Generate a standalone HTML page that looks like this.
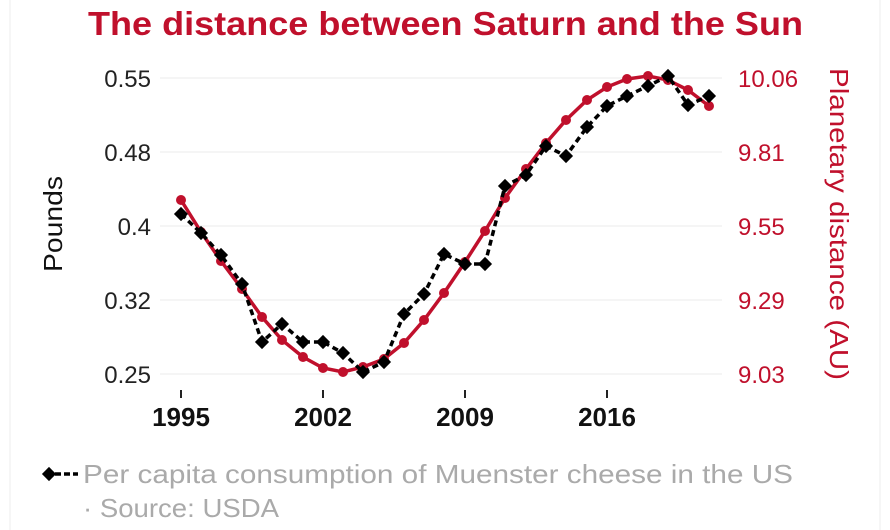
<!DOCTYPE html>
<html><head><meta charset="utf-8"><style>
body{margin:0;background:#fff;}
svg{display:block;font-family:"Liberation Sans",sans-serif;}
</style></head><body>
<svg width="890" height="530" viewBox="0 0 890 530">
<rect x="0" y="0" width="890" height="530" fill="#fff"/>
<line x1="10" y1="0" x2="10" y2="530" stroke="#eee"/>
<line x1="880" y1="0" x2="880" y2="530" stroke="#eee"/>
<text x="88" y="35" font-size="33" font-weight="bold" fill="#c0102c" textLength="715" lengthAdjust="spacingAndGlyphs">The distance between Saturn and the Sun</text>
<g stroke="#ebebeb" stroke-width="1">
<line x1="160" y1="78" x2="722" y2="78"/>
<line x1="160" y1="152" x2="722" y2="152"/>
<line x1="160" y1="226" x2="722" y2="226"/>
<line x1="160" y1="300" x2="722" y2="300"/>
<line x1="160" y1="374" x2="722" y2="374"/>
</g>
<g font-size="24" fill="#222" text-anchor="end">
<text x="151" y="87">0.55</text><text x="151" y="161">0.48</text><text x="151" y="235">0.4</text><text x="151" y="309">0.32</text><text x="151" y="383">0.25</text>
</g>
<g font-size="24" fill="#c0102c" text-anchor="start">
<text x="738" y="87">10.06</text><text x="738" y="161">9.81</text><text x="738" y="235">9.55</text><text x="738" y="309">9.29</text><text x="738" y="383">9.03</text>
</g>
<g stroke="#222" stroke-width="2"><line x1="181" y1="390" x2="181" y2="398"/><line x1="323" y1="390" x2="323" y2="398"/><line x1="465" y1="390" x2="465" y2="398"/><line x1="607" y1="390" x2="607" y2="398"/></g>
<g font-size="26" font-weight="bold" fill="#111" text-anchor="middle">
<text x="181" y="426">1995</text><text x="323" y="426">2002</text><text x="465" y="426">2009</text><text x="607" y="426">2016</text>
</g>
<text transform="translate(62,224) rotate(-90)" text-anchor="middle" font-size="26" fill="#111" textLength="96" lengthAdjust="spacingAndGlyphs">Pounds</text>
<text transform="translate(830,224) rotate(90)" text-anchor="middle" font-size="26" fill="#c0102c" textLength="312" lengthAdjust="spacingAndGlyphs">Planetary distance (AU)</text>
<polyline fill="none" stroke="#c0102c" stroke-width="3.5" points="181,200 201,232 221,261 242,289 262,317 282,340 303,357 323,368 343,372 363,367 384,359 404,343 424,320 444,293 465,262 485,231 505,198 526,169 546,143 566,120 587,100 607,87 627,79 648,76 668,80 688,90 709,106"/>
<g fill="#c0102c">
<circle cx="181" cy="200" r="5"/><circle cx="201" cy="232" r="5"/><circle cx="221" cy="261" r="5"/><circle cx="242" cy="289" r="5"/><circle cx="262" cy="317" r="5"/><circle cx="282" cy="340" r="5"/><circle cx="303" cy="357" r="5"/><circle cx="323" cy="368" r="5"/><circle cx="343" cy="372" r="5"/><circle cx="363" cy="367" r="5"/><circle cx="384" cy="359" r="5"/><circle cx="404" cy="343" r="5"/><circle cx="424" cy="320" r="5"/><circle cx="444" cy="293" r="5"/><circle cx="465" cy="262" r="5"/><circle cx="485" cy="231" r="5"/><circle cx="505" cy="198" r="5"/><circle cx="526" cy="169" r="5"/><circle cx="546" cy="143" r="5"/><circle cx="566" cy="120" r="5"/><circle cx="587" cy="100" r="5"/><circle cx="607" cy="87" r="5"/><circle cx="627" cy="79" r="5"/><circle cx="648" cy="76" r="5"/><circle cx="668" cy="80" r="5"/><circle cx="688" cy="90" r="5"/><circle cx="709" cy="106" r="5"/>
</g>
<polyline fill="none" stroke="#000" stroke-width="3.5" stroke-dasharray="6,4" points="181,214 201,233 221,255 242,284 262,342 282,324 303,342 323,342 343,353 363,372 384,362 404,314 424,294 444,254 465,264 485,264 505,186 526,175 546,146 566,156 587,127 607,106 627,96 648,86 668,76 688,105 709,96"/>
<g fill="#000">
<rect x="-5" y="-5" width="10" height="10" transform="translate(181,214) rotate(45)"/><rect x="-5" y="-5" width="10" height="10" transform="translate(201,233) rotate(45)"/><rect x="-5" y="-5" width="10" height="10" transform="translate(221,255) rotate(45)"/><rect x="-5" y="-5" width="10" height="10" transform="translate(242,284) rotate(45)"/><rect x="-5" y="-5" width="10" height="10" transform="translate(262,342) rotate(45)"/><rect x="-5" y="-5" width="10" height="10" transform="translate(282,324) rotate(45)"/><rect x="-5" y="-5" width="10" height="10" transform="translate(303,342) rotate(45)"/><rect x="-5" y="-5" width="10" height="10" transform="translate(323,342) rotate(45)"/><rect x="-5" y="-5" width="10" height="10" transform="translate(343,353) rotate(45)"/><rect x="-5" y="-5" width="10" height="10" transform="translate(363,372) rotate(45)"/><rect x="-5" y="-5" width="10" height="10" transform="translate(384,362) rotate(45)"/><rect x="-5" y="-5" width="10" height="10" transform="translate(404,314) rotate(45)"/><rect x="-5" y="-5" width="10" height="10" transform="translate(424,294) rotate(45)"/><rect x="-5" y="-5" width="10" height="10" transform="translate(444,254) rotate(45)"/><rect x="-5" y="-5" width="10" height="10" transform="translate(465,264) rotate(45)"/><rect x="-5" y="-5" width="10" height="10" transform="translate(485,264) rotate(45)"/><rect x="-5" y="-5" width="10" height="10" transform="translate(505,186) rotate(45)"/><rect x="-5" y="-5" width="10" height="10" transform="translate(526,175) rotate(45)"/><rect x="-5" y="-5" width="10" height="10" transform="translate(546,146) rotate(45)"/><rect x="-5" y="-5" width="10" height="10" transform="translate(566,156) rotate(45)"/><rect x="-5" y="-5" width="10" height="10" transform="translate(587,127) rotate(45)"/><rect x="-5" y="-5" width="10" height="10" transform="translate(607,106) rotate(45)"/><rect x="-5" y="-5" width="10" height="10" transform="translate(627,96) rotate(45)"/><rect x="-5" y="-5" width="10" height="10" transform="translate(648,86) rotate(45)"/><rect x="-5" y="-5" width="10" height="10" transform="translate(668,76) rotate(45)"/><rect x="-5" y="-5" width="10" height="10" transform="translate(688,105) rotate(45)"/><rect x="-5" y="-5" width="10" height="10" transform="translate(709,96) rotate(45)"/>
</g>
<rect x="-5" y="-5" width="10" height="10" transform="translate(49,474) rotate(45)" fill="#000"/>
<line x1="55" y1="474" x2="78" y2="474" stroke="#000" stroke-width="3.5" stroke-dasharray="6,3"/>
<text x="83" y="483" font-size="26" fill="#aaa" textLength="710" lengthAdjust="spacingAndGlyphs">Per capita consumption of Muenster cheese in the US</text>
<text x="83" y="517" font-size="26" fill="#aaa" textLength="196" lengthAdjust="spacingAndGlyphs">· Source: USDA</text>
</svg>
</body></html>
